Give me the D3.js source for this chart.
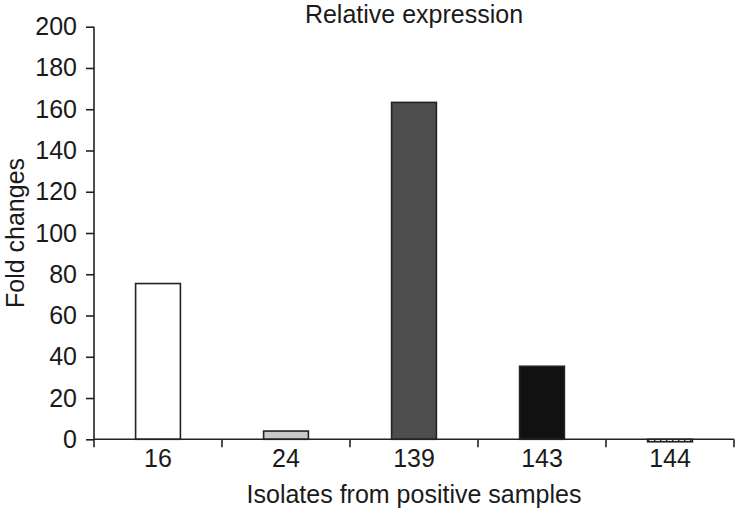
<!DOCTYPE html>
<html><head><meta charset="utf-8">
<script src="https://cdn.jsdelivr.net/npm/d3@7/dist/d3.min.js"></script>
<style>body{margin:0;background:#fff}svg{display:block}text{font-family:"Liberation Sans",Arial,sans-serif;fill:#1a1a1a}</style>
</head><body><svg id="c" width="736" height="509"></svg>
<script>
const categories = ["16", "24", "139", "143", "144"];
const values = [75.5, 4.0, 163.3, 35.4, -1.2];
const fills = ["#ffffff", "#c8c8c8", "#4d4d4d", "#111111", "url(#hatch)"];
const yTicks = [0, 20, 40, 60, 80, 100, 120, 140, 160, 180, 200];
const title = "Relative expression";
const xTitle = "Isolates from positive samples";
const yTitle = "Fold changes";

const svg = d3.select("#c");
const L = 94, R = 734, T = 26.7, B = 439.3;
const FS = 25;
const defs = svg.append("defs");
const pat = defs.append("pattern").attr("id","hatch").attr("patternUnits","userSpaceOnUse")
  .attr("width",6).attr("height",3);
pat.append("rect").attr("width",6).attr("height",3).attr("fill","#fff");
pat.append("path").attr("d","M0,3 L3,0").attr("stroke","#222").attr("stroke-width",1.2);

const y = d3.scaleLinear().domain([0,200]).range([B,T]);
const xb = d3.scaleBand().domain(categories).range([L,R]).paddingInner(0.65).paddingOuter(0.325);
const xe = d3.scaleBand().domain(categories).range([L,R]).padding(0);

svg.selectAll("rect.bar").data(categories).join("rect").attr("class","bar")
  .attr("x", d => xb(d))
  .attr("width", xb.bandwidth())
  .attr("y", (d,i) => y(Math.max(0, values[i])))
  .attr("height", (d,i) => Math.abs(y(values[i]) - y(0)))
  .attr("fill", (d,i) => fills[i])
  .attr("stroke", "#222").attr("stroke-width", 1.6);

// y axis
const ya = svg.append("g").attr("transform",`translate(${L},0)`)
  .call(d3.axisLeft(y).tickValues(yTicks).tickSize(8).tickPadding(9));
ya.select(".domain").attr("stroke","#222").attr("stroke-width",1.6).attr("d",`M0,${T}V${B}`);
ya.selectAll(".tick line").attr("stroke","#222").attr("stroke-width",1.6);
ya.selectAll(".tick text").attr("font-size",FS).attr("fill","#1a1a1a").style("font-family","Liberation Sans, Arial, sans-serif");

// x axis
const xa = svg.append("g").attr("transform",`translate(0,${B})`)
  .call(d3.axisBottom(xb).tickSize(0).tickPadding(10));
xa.select(".domain").attr("stroke","#222").attr("stroke-width",1.6).attr("d",`M${L},0H${R}`);
xa.selectAll(".tick text").attr("font-size",FS).attr("fill","#1a1a1a").style("font-family","Liberation Sans, Arial, sans-serif");
const edges = categories.map(c => xe(c)).concat([xe(categories[categories.length-1]) + xe.bandwidth()]);
xa.selectAll("line.edge").data(edges).join("line").attr("class","edge")
  .attr("x1",d=>d).attr("x2",d=>d).attr("y1",0).attr("y2",8)
  .attr("stroke","#222").attr("stroke-width",1.6);

svg.append("text").attr("x",(L+R)/2).attr("y",23).attr("text-anchor","middle").attr("font-size",FS).text(title);
svg.append("text").attr("x",(L+R)/2).attr("y",503).attr("text-anchor","middle").attr("font-size",FS).text(xTitle);
svg.append("text").attr("transform",`translate(24,${(T+B)/2}) rotate(-90)`).attr("text-anchor","middle").attr("font-size",FS).text(yTitle);
</script></body></html>
